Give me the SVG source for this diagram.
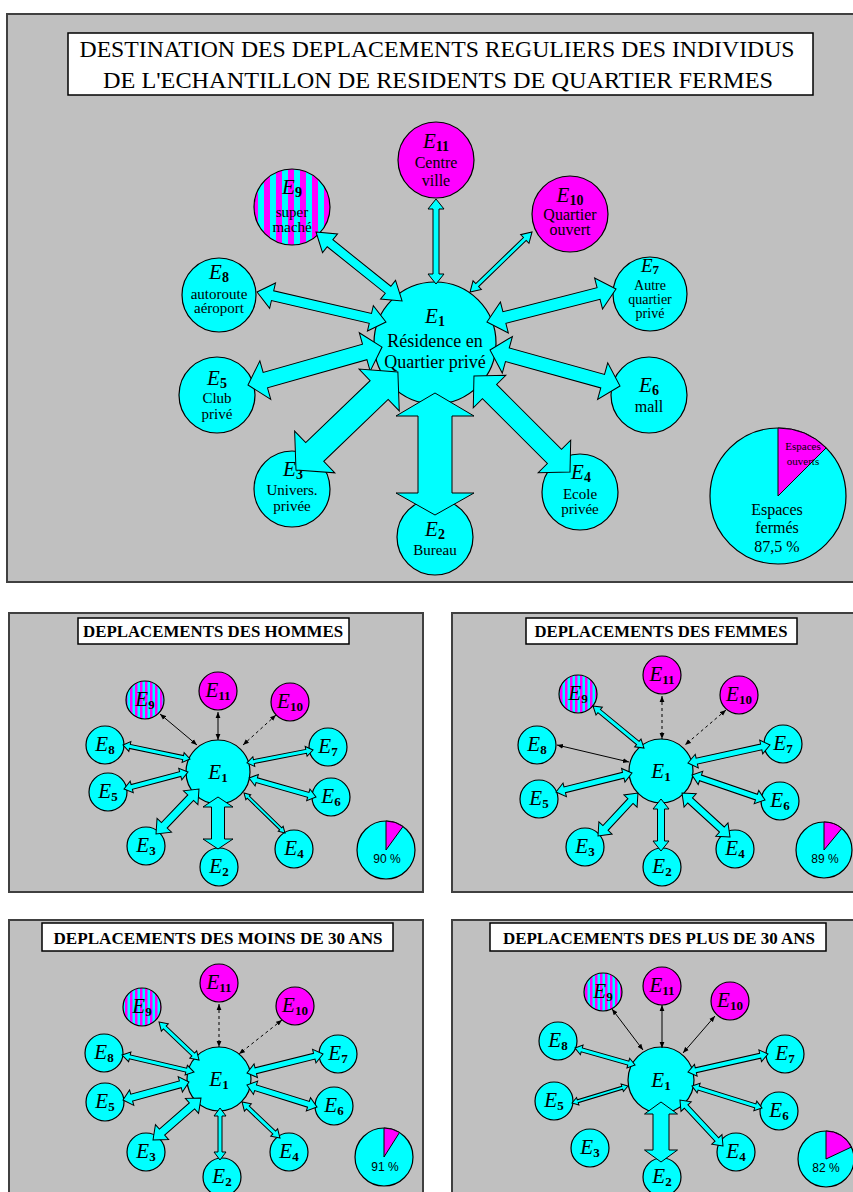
<svg xmlns="http://www.w3.org/2000/svg" width="853" height="1192" viewBox="0 0 853 1192">
<style>
.panel{fill:#c0c0c0;stroke:#404040;stroke-width:2}
.tbox{fill:#fff;stroke:#000;stroke-width:1.5}
.c{fill:#0ff;stroke:#000;stroke-width:1.2}
.m{fill:#f0f;stroke:#000;stroke-width:1.2}
.blk{fill:#0ff;stroke:#000;stroke-width:1}
.ln{stroke:#000;stroke-width:1;fill:none;marker-start:url(#ah);marker-end:url(#ah)}
.dl{stroke:#000;stroke-width:1;fill:none;stroke-dasharray:3,3;marker-start:url(#ah);marker-end:url(#ah)}
text{font-family:"Liberation Serif","Times New Roman",serif;fill:#000;text-anchor:middle}
.t1{font-size:24px}
.t2{font-size:16px;font-weight:bold}
.lb{font-size:16px}
.lbs{font-size:15px}
.lbt{font-size:14px}
.lbx{font-size:18px}
.me{font-size:21px}
.msub{font-size:14px;font-weight:bold}
.i{font-style:italic}
.s{font-weight:bold}
.ne{font-size:21px}
.sub{font-size:13px}
.pct{font-family:"Liberation Sans",Arial,sans-serif;font-size:12px}
</style>
<defs>
<pattern id="stL" width="12" height="10" patternUnits="userSpaceOnUse"><rect width="12" height="10" fill="#0ff"/><rect width="6" height="10" fill="#f0f"/></pattern>
<pattern id="stS" width="5" height="10" patternUnits="userSpaceOnUse"><rect width="5" height="10" fill="#0ff"/><rect width="2.5" height="10" fill="#f0f"/></pattern>
<marker id="ah" viewBox="0 0 10 10" refX="10" refY="5" markerWidth="6" markerHeight="6" orient="auto-start-reverse"><path d="M0,1 L10,5 L0,9 z" fill="#000"/></marker>
</defs>
<rect width="853" height="1192" fill="#fff"/>

<!-- MAIN PANEL -->
<g id="main-panel">
<rect class="panel" x="7" y="14" width="860" height="568"/>
<rect class="tbox" x="68" y="33" width="745" height="62"/>
<text class="t1" x="437" y="57" textLength="715" lengthAdjust="spacingAndGlyphs">DESTINATION DES DEPLACEMENTS REGULIERS DES INDIVIDUS</text>
<text class="t1" x="438" y="88" textLength="670" lengthAdjust="spacingAndGlyphs">DE L'ECHANTILLON DE RESIDENTS DE QUARTIER FERMES</text>
</g>
<g id="m-E1"><circle class="c" cx="435" cy="343" r="61"/>
<text x="435" y="323" class="me"><tspan class="i">E</tspan><tspan class="msub" dy="3">1</tspan></text>
<text class="lbx" x="435" y="347">Résidence en</text>
<text class="lbx" x="435" y="368">Quartier privé</text></g>
<g id="m-E11"><circle class="m" cx="436" cy="160" r="38"/>
<text x="436" y="148" class="me"><tspan class="i">E</tspan><tspan class="msub" dy="3">11</tspan></text>
<text class="lb" x="436" y="168">Centre</text><text class="lb" x="436" y="186">ville</text></g>
<g id="m-E9"><circle cx="292" cy="207" r="38" fill="url(#stL)" stroke="#000" stroke-width="1.2"/>
<text x="292" y="194" class="me"><tspan class="i">E</tspan><tspan class="msub" dy="3">9</tspan></text>
<text class="lbs" x="292" y="217">super</text><text class="lbs" x="292" y="232">maché</text></g>
<g id="m-E10"><circle class="m" cx="570" cy="214" r="38"/>
<text x="570" y="202" class="me"><tspan class="i">E</tspan><tspan class="msub" dy="3">10</tspan></text>
<text class="lb" x="570" y="220">Quartier</text><text class="lb" x="570" y="235">ouvert</text></g>
<g id="m-E8"><circle class="c" cx="219" cy="295" r="37"/>
<text x="219" y="279" class="me"><tspan class="i">E</tspan><tspan class="msub" dy="3">8</tspan></text>
<text class="lbs" x="219" y="299">autoroute</text><text class="lbs" x="219" y="313">aéroport</text></g>
<g id="m-E7"><circle class="c" cx="650" cy="294" r="37"/>
<text x="650" y="272" style="font-size:19px"><tspan class="i">E</tspan><tspan class="msub" style="font-size:13px" dy="2">7</tspan></text>
<text class="lbt" x="650" y="290">Autre</text><text class="lbt" x="650" y="304">quartier</text><text class="lbt" x="650" y="318">privé</text></g>
<g id="m-E5"><circle class="c" cx="217" cy="395" r="38"/>
<text x="217" y="385" class="me"><tspan class="i">E</tspan><tspan class="msub" dy="3">5</tspan></text>
<text class="lbs" x="217" y="403">Club</text><text class="lbs" x="217" y="419">privé</text></g>
<g id="m-E6"><circle class="c" cx="649" cy="395" r="38"/>
<text x="649" y="392" class="me"><tspan class="i">E</tspan><tspan class="msub" dy="3">6</tspan></text>
<text class="lb" x="649" y="412">mall</text></g>
<g id="m-E3"><circle class="c" cx="292" cy="489" r="38"/>
<text x="293" y="476" class="me"><tspan class="i">E</tspan><tspan class="msub" dy="3">3</tspan></text>
<text class="lbs" x="292" y="495">Univers.</text><text class="lbs" x="292" y="511">privée</text></g>
<g id="m-E4"><circle class="c" cx="580" cy="492" r="38"/>
<text x="581" y="479" class="me"><tspan class="i">E</tspan><tspan class="msub" dy="3">4</tspan></text>
<text class="lbs" x="580" y="499">Ecole</text><text class="lbs" x="580" y="514">privée</text></g>
<g id="m-E2"><circle class="c" cx="435" cy="537" r="38"/>
<text x="435" y="536" class="me"><tspan class="i">E</tspan><tspan class="msub" dy="3">2</tspan></text>
<text class="lbs" x="435" y="555">Bureau</text></g>
<g id="m-pie"><circle class="c" cx="778" cy="496" r="68"/>
<path d="M778,496 L778,428 A68,68 0 0 1 826.1,447.9 Z" fill="#f0f" stroke="#000" stroke-width="1"/>
<text x="803" y="450" style="font-size:11px">Espaces</text><text x="803" y="465" style="font-size:11px">ouverts</text>
<text x="777" y="515" style="font-size:16px">Espaces</text><text x="777" y="533" style="font-size:16px">fermés</text><text x="777" y="552" style="font-size:16px">87,5 %</text></g>

<g id="m-connectors">
<polygon class="blk" points="435,393 474,416 452,416 452,493 474,493 435,515 396,493 418,493 418,416 396,416"/>
<polygon class="blk" points="436,199 444,209 439,209 439,274 444,274 436,284 428,274 433,274 433,209 428,209"/>
<polygon class="blk" transform="translate(316 232) rotate(38.7)" points="0,0 18,-12 18,-4.5 92.3,-4.5 92.3,-12 110.3,0 92.3,12 92.3,4.5 18,4.5 18,12"/>
<polygon class="blk" transform="translate(532 232) rotate(135.9)" points="0,0 10,-6 10,-2 76.3,-2 76.3,-6 86.3,0 76.3,6 76.3,2 10,2 10,6"/>
<polygon class="blk" transform="translate(257 292) rotate(13.1)" points="0,0 16,-13 16,-5 116.4,-5 116.4,-13 132.4,0 116.4,13 116.4,5 16,5 16,13"/>
<polygon class="blk" transform="translate(616 289) rotate(165.65)" points="0,0 18,-16 18,-6 115.2,-6 115.2,-16 133.2,0 115.2,16 115.2,6 18,6 18,16"/>
<polygon class="blk" transform="translate(248 385) rotate(-15.8)" points="0,0 18,-20 18,-8 121.3,-8 121.3,-20 139.3,0 121.3,20 121.3,8 18,8 18,20"/>
<polygon class="blk" transform="translate(620 386) rotate(-164.5)" points="0,0 18,-19 18,-7 116.9,-7 116.9,-19 134.9,0 116.9,19 116.9,7 18,7 18,19"/>
<polygon class="blk" transform="translate(296 470) rotate(-43.9)" points="0,0 26,-29 26,-13 115.4,-13 115.4,-29 141.4,0 115.4,29 115.4,13 26,13 26,29"/>
<polygon class="blk" transform="translate(570 472) rotate(-135)" points="0,0 22,-23 22,-10 113.8,-10 113.8,-23 135.8,0 113.8,23 113.8,10 22,10 22,23"/>
</g>

<!-- HOMMES -->
<g id="h-panel"><rect class="panel" x="9" y="613" width="414" height="279"/>
<rect class="tbox" x="78" y="618" width="271" height="26"/>
<text class="t2" x="213" y="637" textLength="260" lengthAdjust="spacingAndGlyphs">DEPLACEMENTS DES HOMMES</text></g>
<g id="h-E1"><circle class="c" cx="218" cy="772" r="32"/><text x="218" y="779" class="ne"><tspan class="i">E</tspan><tspan class="s sub" dy="3">1</tspan></text></g>
<g id="h-E11"><circle class="m" cx="218" cy="691" r="19"/><text x="218" y="697" class="ne"><tspan class="i">E</tspan><tspan class="s sub" dy="3">11</tspan></text></g>
<g id="h-E9"><circle cx="145" cy="700" r="19" fill="url(#stS)" stroke="#000" stroke-width="1.2"/><text x="145" y="706" class="ne"><tspan class="i">E</tspan><tspan class="s sub" dy="3">9</tspan></text></g>
<g id="h-E10"><circle class="m" cx="290" cy="702" r="19"/><text x="290" y="708" class="ne"><tspan class="i">E</tspan><tspan class="s sub" dy="3">10</tspan></text></g>
<g id="h-E8"><circle class="c" cx="105" cy="745" r="19"/><text x="105" y="751" class="ne"><tspan class="i">E</tspan><tspan class="s sub" dy="3">8</tspan></text></g>
<g id="h-E7"><circle class="c" cx="328" cy="747" r="19"/><text x="328" y="753" class="ne"><tspan class="i">E</tspan><tspan class="s sub" dy="3">7</tspan></text></g>
<g id="h-E5"><circle class="c" cx="108" cy="792" r="19"/><text x="108" y="798" class="ne"><tspan class="i">E</tspan><tspan class="s sub" dy="3">5</tspan></text></g>
<g id="h-E6"><circle class="c" cx="331" cy="797" r="19"/><text x="331" y="803" class="ne"><tspan class="i">E</tspan><tspan class="s sub" dy="3">6</tspan></text></g>
<g id="h-E3"><circle class="c" cx="146" cy="846" r="19"/><text x="146" y="852" class="ne"><tspan class="i">E</tspan><tspan class="s sub" dy="3">3</tspan></text></g>
<g id="h-E2"><circle class="c" cx="219" cy="867" r="19"/><text x="219" y="873" class="ne"><tspan class="i">E</tspan><tspan class="s sub" dy="3">2</tspan></text></g>
<g id="h-E4"><circle class="c" cx="294" cy="849" r="19"/><text x="294" y="855" class="ne"><tspan class="i">E</tspan><tspan class="s sub" dy="3">4</tspan></text></g>
<g id="h-pie"><circle class="c" cx="386" cy="850" r="29"/><path d="M386,850 L386,821 A29,29 0 0 1 403,826.5 Z" fill="#f0f" stroke="#000" stroke-width="1"/><text class="pct" x="387" y="863">90 %</text></g>
<g id="h-connectors">
<line class="ln" x1="218" y1="712" x2="218" y2="740"/>
<line class="ln" x1="160" y1="714" x2="197" y2="745"/>
<line class="dl" x1="276" y1="715" x2="243" y2="745"/>
<polygon class="blk" transform="translate(123 745) rotate(11.8)" points="0,0 7,-5 7,-2 61.4,-2 61.4,-5 68.4,0 61.4,5 61.4,2 7,2 7,5"/>
<polygon class="blk" transform="translate(313 750) rotate(168.9)" points="0,0 7,-5 7,-2 60.3,-2 60.3,-5 67.3,0 60.3,5 60.3,2 7,2 7,5"/>
<polygon class="blk" transform="translate(124 789) rotate(-14.9)" points="0,0 8,-6 8,-2.5 58.2,-2.5 58.2,-6 66.2,0 58.2,6 58.2,2.5 8,2.5 8,6"/>
<polygon class="blk" transform="translate(316 797) rotate(-164.2)" points="0,0 8,-6 8,-2.5 61.6,-2.5 61.6,-6 69.6,0 61.6,6 61.6,2.5 8,2.5 8,6"/>
<polygon class="blk" transform="translate(156 834) rotate(-46.3)" points="0,0 12,-10 12,-4 50.2,-4 50.2,-10 62.2,0 50.2,10 50.2,4 12,4 12,10"/>
<polygon class="blk" points="218,797 233,807 224.5,807 224.5,839 233,839 218,849 203,839 211.5,839 211.5,807 203,807"/>
<polygon class="blk" transform="translate(285 833) rotate(-135.7)" points="0,0 6,-3.5 6,-1.5 51.3,-1.5 51.3,-3.5 57.3,0 51.3,3.5 51.3,1.5 6,1.5 6,3.5"/>
</g>

<!-- FEMMES -->
<g id="f-panel"><rect class="panel" x="452" y="613" width="410" height="279"/>
<rect class="tbox" x="526" y="618" width="271" height="26"/>
<text class="t2" x="661" y="637" textLength="253" lengthAdjust="spacingAndGlyphs">DEPLACEMENTS DES FEMMES</text></g>
<g id="f-E1"><circle class="c" cx="661" cy="771" r="32"/><text x="661" y="778" class="ne"><tspan class="i">E</tspan><tspan class="s sub" dy="3">1</tspan></text></g>
<g id="f-E11"><circle class="m" cx="662" cy="675" r="19"/><text x="662" y="681" class="ne"><tspan class="i">E</tspan><tspan class="s sub" dy="3">11</tspan></text></g>
<g id="f-E9"><circle cx="578" cy="694" r="19" fill="url(#stS)" stroke="#000" stroke-width="1.2"/><text x="578" y="700" class="ne"><tspan class="i">E</tspan><tspan class="s sub" dy="3">9</tspan></text></g>
<g id="f-E10"><circle class="m" cx="739" cy="695" r="19"/><text x="739" y="701" class="ne"><tspan class="i">E</tspan><tspan class="s sub" dy="3">10</tspan></text></g>
<g id="f-E8"><circle class="c" cx="537" cy="745" r="19"/><text x="537" y="751" class="ne"><tspan class="i">E</tspan><tspan class="s sub" dy="3">8</tspan></text></g>
<g id="f-E7"><circle class="c" cx="783" cy="744" r="19"/><text x="783" y="750" class="ne"><tspan class="i">E</tspan><tspan class="s sub" dy="3">7</tspan></text></g>
<g id="f-E5"><circle class="c" cx="539" cy="799" r="19"/><text x="539" y="805" class="ne"><tspan class="i">E</tspan><tspan class="s sub" dy="3">5</tspan></text></g>
<g id="f-E6"><circle class="c" cx="780" cy="801" r="19"/><text x="780" y="807" class="ne"><tspan class="i">E</tspan><tspan class="s sub" dy="3">6</tspan></text></g>
<g id="f-E3"><circle class="c" cx="585" cy="847" r="19"/><text x="585" y="853" class="ne"><tspan class="i">E</tspan><tspan class="s sub" dy="3">3</tspan></text></g>
<g id="f-E2"><circle class="c" cx="662" cy="867" r="19"/><text x="662" y="873" class="ne"><tspan class="i">E</tspan><tspan class="s sub" dy="3">2</tspan></text></g>
<g id="f-E4"><circle class="c" cx="735" cy="849" r="19"/><text x="735" y="855" class="ne"><tspan class="i">E</tspan><tspan class="s sub" dy="3">4</tspan></text></g>
<g id="f-pie"><circle class="c" cx="824" cy="850" r="28"/><path d="M824,850 L824,822 A28,28 0 0 1 841.8,828.4 Z" fill="#f0f" stroke="#000" stroke-width="1"/><text class="pct" x="825" y="863">89 %</text></g>
<g id="f-connectors">
<line class="dl" x1="662" y1="696" x2="662" y2="739"/>
<line class="dl" x1="726" y1="710" x2="685" y2="745"/>
<line class="ln" x1="557" y1="745" x2="629" y2="762"/>
<polygon class="blk" transform="translate(593 706) rotate(39.5)" points="0,0 8,-5 8,-2 58.1,-2 58.1,-5 66.1,0 58.1,5 58.1,2 8,2 8,5"/>
<polygon class="blk" transform="translate(770 745) rotate(167.6)" points="0,0 9,-7 9,-3 75,-3 75,-7 84,0 75,7 75,3 9,3 9,7"/>
<polygon class="blk" transform="translate(556 792) rotate(-14)" points="0,0 9,-7 9,-3 69.3,-3 69.3,-7 78.3,0 69.3,7 69.3,3 9,3 9,7"/>
<polygon class="blk" transform="translate(765 800) rotate(-161.1)" points="0,0 9,-7 9,-3 68.2,-3 68.2,-7 77.2,0 68.2,7 68.2,3 9,3 9,7"/>
<polygon class="blk" transform="translate(598 836) rotate(-47.1)" points="0,0 11,-9 11,-3.5 47.7,-3.5 47.7,-9 58.7,0 47.7,9 47.7,3.5 11,3.5 11,9"/>
<polygon class="blk" points="661,799 669,809 664.5,809 664.5,841 669,841 661,851 653,841 657.5,841 657.5,809 653,809"/>
<polygon class="blk" transform="translate(730 837) rotate(-137.5)" points="0,0 11,-9 11,-3.5 54.1,-3.5 54.1,-9 65.1,0 54.1,9 54.1,3.5 11,3.5 11,9"/>
</g>

<!-- MOINS DE 30 ANS -->
<g id="y-panel"><rect class="panel" x="9" y="920" width="414" height="290"/>
<rect class="tbox" x="42" y="923" width="351" height="28"/>
<text class="t2" x="218" y="944" textLength="329" lengthAdjust="spacingAndGlyphs">DEPLACEMENTS DES MOINS DE 30 ANS</text></g>
<g id="y-E1"><circle class="c" cx="219" cy="1079" r="32"/><text x="219" y="1086" class="ne"><tspan class="i">E</tspan><tspan class="s sub" dy="3">1</tspan></text></g>
<g id="y-E11"><circle class="m" cx="219" cy="983" r="19"/><text x="219" y="989" class="ne"><tspan class="i">E</tspan><tspan class="s sub" dy="3">11</tspan></text></g>
<g id="y-E9"><circle cx="142" cy="1007" r="19" fill="url(#stS)" stroke="#000" stroke-width="1.2"/><text x="142" y="1013" class="ne"><tspan class="i">E</tspan><tspan class="s sub" dy="3">9</tspan></text></g>
<g id="y-E10"><circle class="m" cx="295" cy="1006" r="19"/><text x="295" y="1012" class="ne"><tspan class="i">E</tspan><tspan class="s sub" dy="3">10</tspan></text></g>
<g id="y-E8"><circle class="c" cx="104" cy="1053" r="19"/><text x="104" y="1059" class="ne"><tspan class="i">E</tspan><tspan class="s sub" dy="3">8</tspan></text></g>
<g id="y-E7"><circle class="c" cx="338" cy="1054" r="19"/><text x="338" y="1060" class="ne"><tspan class="i">E</tspan><tspan class="s sub" dy="3">7</tspan></text></g>
<g id="y-E5"><circle class="c" cx="105" cy="1102" r="19"/><text x="105" y="1108" class="ne"><tspan class="i">E</tspan><tspan class="s sub" dy="3">5</tspan></text></g>
<g id="y-E6"><circle class="c" cx="334" cy="1106" r="19"/><text x="334" y="1112" class="ne"><tspan class="i">E</tspan><tspan class="s sub" dy="3">6</tspan></text></g>
<g id="y-E3"><circle class="c" cx="146" cy="1152" r="19"/><text x="146" y="1158" class="ne"><tspan class="i">E</tspan><tspan class="s sub" dy="3">3</tspan></text></g>
<g id="y-E2"><circle class="c" cx="222" cy="1177" r="19"/><text x="222" y="1183" class="ne"><tspan class="i">E</tspan><tspan class="s sub" dy="3">2</tspan></text></g>
<g id="y-E4"><circle class="c" cx="289" cy="1152" r="19"/><text x="289" y="1158" class="ne"><tspan class="i">E</tspan><tspan class="s sub" dy="3">4</tspan></text></g>
<g id="y-pie"><circle class="c" cx="384" cy="1157" r="29"/><path d="M384,1157 L384,1128 A29,29 0 0 1 399.5,1132.5 Z" fill="#f0f" stroke="#000" stroke-width="1"/><text class="pct" x="385" y="1171">91 %</text></g>
<g id="y-connectors">
<line class="dl" x1="219" y1="1004" x2="219" y2="1047"/>
<line class="dl" x1="282" y1="1020" x2="239" y2="1054"/>
<polygon class="blk" transform="translate(159 1022) rotate(43.5)" points="0,0 8,-5 8,-2 47.2,-2 47.2,-5 55.2,0 47.2,5 47.2,2 8,2 8,5"/>
<polygon class="blk" transform="translate(122 1055) rotate(13.3)" points="0,0 8,-5 8,-2 66,-2 66,-5 74,0 66,5 66,2 8,2 8,5"/>
<polygon class="blk" transform="translate(323 1054) rotate(166)" points="0,0 9,-7 9,-3 69.3,-3 69.3,-7 78.3,0 69.3,7 69.3,3 9,3 9,7"/>
<polygon class="blk" transform="translate(123 1100) rotate(-15.3)" points="0,0 9,-8 9,-3.5 59.4,-3.5 59.4,-8 68.4,0 59.4,8 59.4,3.5 9,3.5 9,8"/>
<polygon class="blk" transform="translate(317 1107) rotate(-162.6)" points="0,0 9,-7 9,-3 64.4,-3 64.4,-7 73.4,0 64.4,7 64.4,3 9,3 9,7"/>
<polygon class="blk" transform="translate(153 1140) rotate(-41.2)" points="0,0 12,-10 12,-4 51.8,-4 51.8,-10 63.8,0 51.8,10 51.8,4 12,4 12,10"/>
<polygon class="blk" points="220,1108 226,1116 222,1116 222,1152 226,1152 220,1160 214,1152 218,1152 218,1116 214,1116"/>
<polygon class="blk" transform="translate(280 1138) rotate(-136.5)" points="0,0 8,-5 8,-2 44.3,-2 44.3,-5 52.3,0 44.3,5 44.3,2 8,2 8,5"/>
</g>

<!-- PLUS DE 30 ANS -->
<g id="p-panel"><rect class="panel" x="452" y="920" width="410" height="290"/>
<rect class="tbox" x="490" y="923" width="336" height="28"/>
<text class="t2" x="659" y="944" textLength="312" lengthAdjust="spacingAndGlyphs">DEPLACEMENTS DES PLUS DE 30 ANS</text></g>
<g id="p-E1"><circle class="c" cx="661" cy="1080" r="33"/><text x="661" y="1087" class="ne"><tspan class="i">E</tspan><tspan class="s sub" dy="3">1</tspan></text></g>
<g id="p-E11"><circle class="m" cx="662" cy="986" r="19"/><text x="662" y="992" class="ne"><tspan class="i">E</tspan><tspan class="s sub" dy="3">11</tspan></text></g>
<g id="p-E9"><circle cx="603" cy="992" r="19" fill="url(#stS)" stroke="#000" stroke-width="1.2"/><text x="603" y="998" class="ne"><tspan class="i">E</tspan><tspan class="s sub" dy="3">9</tspan></text></g>
<g id="p-E10"><circle class="m" cx="730" cy="1001" r="19"/><text x="730" y="1007" class="ne"><tspan class="i">E</tspan><tspan class="s sub" dy="3">10</tspan></text></g>
<g id="p-E8"><circle class="c" cx="558" cy="1041" r="19"/><text x="558" y="1047" class="ne"><tspan class="i">E</tspan><tspan class="s sub" dy="3">8</tspan></text></g>
<g id="p-E7"><circle class="c" cx="785" cy="1054" r="19"/><text x="785" y="1060" class="ne"><tspan class="i">E</tspan><tspan class="s sub" dy="3">7</tspan></text></g>
<g id="p-E5"><circle class="c" cx="554" cy="1101" r="19"/><text x="554" y="1107" class="ne"><tspan class="i">E</tspan><tspan class="s sub" dy="3">5</tspan></text></g>
<g id="p-E6"><circle class="c" cx="779" cy="1111" r="19"/><text x="779" y="1117" class="ne"><tspan class="i">E</tspan><tspan class="s sub" dy="3">6</tspan></text></g>
<g id="p-E3"><circle class="c" cx="590" cy="1148" r="19"/><text x="590" y="1154" class="ne"><tspan class="i">E</tspan><tspan class="s sub" dy="3">3</tspan></text></g>
<g id="p-E2"><circle class="c" cx="662" cy="1177" r="19"/><text x="662" y="1183" class="ne"><tspan class="i">E</tspan><tspan class="s sub" dy="3">2</tspan></text></g>
<g id="p-E4"><circle class="c" cx="736" cy="1152" r="19"/><text x="736" y="1158" class="ne"><tspan class="i">E</tspan><tspan class="s sub" dy="3">4</tspan></text></g>
<g id="p-pie"><circle class="c" cx="826" cy="1159" r="28"/><path d="M826,1159 L826,1131 A28,28 0 0 1 851.3,1147.1 Z" fill="#f0f" stroke="#000" stroke-width="1"/><text class="pct" x="826" y="1172">82 %</text></g>
<g id="p-connectors">
<line class="ln" x1="612" y1="1009" x2="643" y2="1050"/>
<line class="ln" x1="662" y1="1005" x2="662" y2="1048"/>
<line class="ln" x1="715" y1="1016" x2="683" y2="1053"/>
<polygon class="blk" transform="translate(575 1048) rotate(15.8)" points="0,0 7,-5 7,-2 55.4,-2 55.4,-5 62.4,0 55.4,5 55.4,2 7,2 7,5"/>
<polygon class="blk" transform="translate(768 1054) rotate(167.3)" points="0,0 8,-6 8,-2.5 74,-2.5 74,-6 82,0 74,6 74,2.5 8,2.5 8,6"/>
<polygon class="blk" transform="translate(572 1103) rotate(-16.9)" points="0,0 6,-4 6,-1.5 52.5,-1.5 52.5,-4 58.5,0 52.5,4 52.5,1.5 6,1.5 6,4"/>
<polygon class="blk" transform="translate(762 1108) rotate(-162.6)" points="0,0 7,-5 7,-2 66.4,-2 66.4,-5 73.4,0 66.4,5 66.4,2 7,2 7,5"/>
<polygon class="blk" points="661,1102 677.5,1114 669,1114 669,1150 677.5,1150 661,1162 644.5,1150 653,1150 653,1114 644.5,1114"/>
<polygon class="blk" transform="translate(723 1146) rotate(-133.1)" points="0,0 9,-7 9,-2.5 54,-2.5 54,-7 63,0 54,7 54,2.5 9,2.5 9,7"/>
</g>
</svg>
